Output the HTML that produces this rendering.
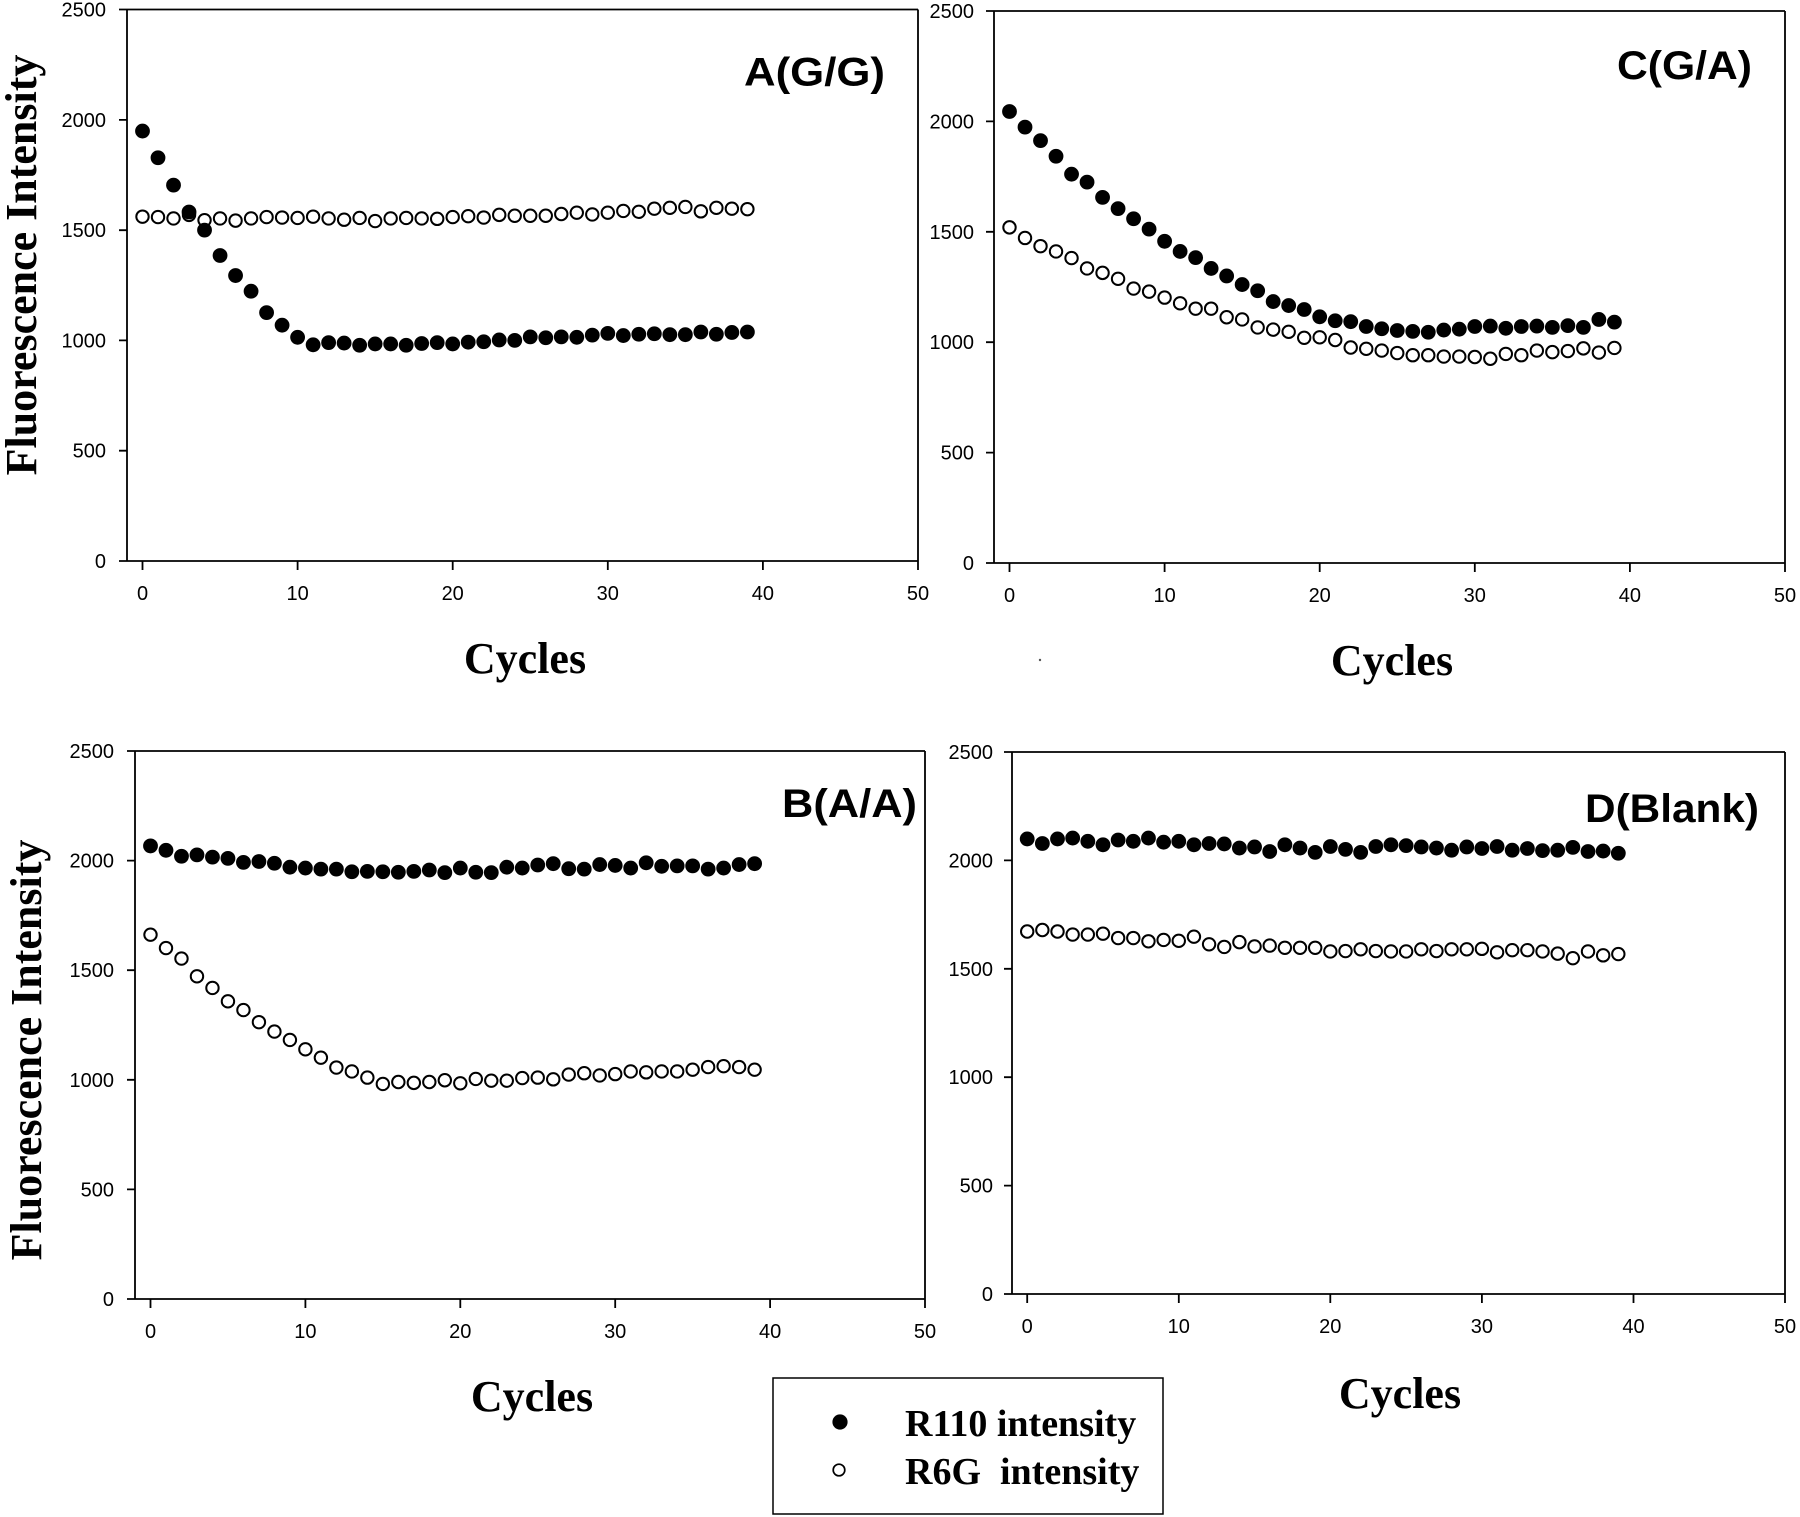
<!DOCTYPE html>
<html><head><meta charset="utf-8"><style>
html,body{margin:0;padding:0;background:#fff;}
svg{display:block;}
.tk{font-family:"Liberation Sans",Arial,sans-serif;font-size:20px;fill:#000;}
.ttl{font-family:"Liberation Sans",Arial,sans-serif;font-size:40px;font-weight:bold;fill:#000;}
.cy{font-family:"Liberation Serif","Times New Roman",serif;font-size:44px;font-weight:bold;fill:#000;}
.lg{font-family:"Liberation Serif","Times New Roman",serif;font-size:38px;font-weight:bold;fill:#000;}
</style></head><body>
<svg width="1800" height="1517" viewBox="0 0 1800 1517" xmlns="http://www.w3.org/2000/svg">
<rect width="1800" height="1517" fill="#fff"/>
<defs>
<g id="fA"><circle r="7.4" fill="#000" transform="scale(0.064475,-4.5331)"/></g>
<g id="oA"><circle r="6.2" fill="#fff" stroke="#000" stroke-width="2" transform="scale(0.064475,-4.5331)"/></g>
<g id="fC"><circle r="7.4" fill="#000" transform="scale(0.064475,-4.5290)"/></g>
<g id="oC"><circle r="6.2" fill="#fff" stroke="#000" stroke-width="2" transform="scale(0.064475,-4.5290)"/></g>
<g id="fB"><circle r="7.4" fill="#000" transform="scale(0.064558,-4.5620)"/></g>
<g id="oB"><circle r="6.2" fill="#fff" stroke="#000" stroke-width="2" transform="scale(0.064558,-4.5620)"/></g>
<g id="fD"><circle r="7.4" fill="#000" transform="scale(0.065976,-4.6125)"/></g>
<g id="oD"><circle r="6.2" fill="#fff" stroke="#000" stroke-width="2" transform="scale(0.065976,-4.6125)"/></g>
</defs>

<!-- ================= Plot A ================= -->
<g stroke="#000" stroke-width="1.8" fill="none">
<path d="M127 9.5V561M119 9.5H918M918 9.5V570M119 561H918"/>
<path d="M119 450.7H127M119 340.4H127M119 230.2H127M119 119.9H127"/>
<path d="M142.5 561V570M297.6 561V570M452.7 561V570M607.8 561V570M762.9 561V570"/>
</g>
<g class="tk" text-anchor="end">
<text x="106" y="568">0</text><text x="106" y="457.7">500</text><text x="106" y="347.4">1000</text>
<text x="106" y="237.2">1500</text><text x="106" y="126.9">2000</text><text x="106" y="16.5">2500</text>
</g>
<g class="tk" text-anchor="middle">
<text x="142.5" y="600">0</text><text x="297.6" y="600">10</text><text x="452.7" y="600">20</text>
<text x="607.8" y="600">30</text><text x="762.9" y="600">40</text><text x="918" y="600">50</text>
</g>
<text class="ttl" x="744" y="85.5" textLength="141" lengthAdjust="spacingAndGlyphs">A(G/G)</text>
<text class="cy" x="525" y="673" text-anchor="middle">Cycles</text>
<text class="cy" text-anchor="middle" transform="translate(36,265) rotate(-90)">Fluorescence Intensity</text>
<g transform="translate(142.5,561) scale(15.51,-0.2206)">
<use href="#oA" x="0" y="1561"/><use href="#oA" x="1" y="1559"/><use href="#oA" x="2" y="1553"/><use href="#oA" x="3" y="1569"/><use href="#oA" x="4" y="1545"/><use href="#oA" x="5" y="1553"/><use href="#oA" x="6" y="1543"/><use href="#oA" x="7" y="1553"/><use href="#oA" x="8" y="1559"/><use href="#oA" x="9" y="1557"/>
<use href="#oA" x="10" y="1555"/><use href="#oA" x="11" y="1561"/><use href="#oA" x="12" y="1553"/><use href="#oA" x="13" y="1547"/><use href="#oA" x="14" y="1555"/><use href="#oA" x="15" y="1541"/><use href="#oA" x="16" y="1553"/><use href="#oA" x="17" y="1555"/><use href="#oA" x="18" y="1553"/><use href="#oA" x="19" y="1551"/>
<use href="#oA" x="20" y="1559"/><use href="#oA" x="21" y="1563"/><use href="#oA" x="22" y="1557"/><use href="#oA" x="23" y="1569"/><use href="#oA" x="24" y="1565"/><use href="#oA" x="25" y="1565"/><use href="#oA" x="26" y="1565"/><use href="#oA" x="27" y="1573"/><use href="#oA" x="28" y="1579"/><use href="#oA" x="29" y="1571"/>
<use href="#oA" x="30" y="1579"/><use href="#oA" x="31" y="1587"/><use href="#oA" x="32" y="1583"/><use href="#oA" x="33" y="1597"/><use href="#oA" x="34" y="1601"/><use href="#oA" x="35" y="1605"/><use href="#oA" x="36" y="1585"/><use href="#oA" x="37" y="1601"/><use href="#oA" x="38" y="1597"/><use href="#oA" x="39" y="1595"/>
<use href="#fA" x="0" y="1949"/><use href="#fA" x="1" y="1828"/><use href="#fA" x="2" y="1704"/><use href="#fA" x="3" y="1582"/><use href="#fA" x="4" y="1500"/><use href="#fA" x="5" y="1385"/><use href="#fA" x="6" y="1294"/><use href="#fA" x="7" y="1223"/><use href="#fA" x="8" y="1126"/><use href="#fA" x="9" y="1069"/>
<use href="#fA" x="10" y="1014"/><use href="#fA" x="11" y="980"/><use href="#fA" x="12" y="990"/><use href="#fA" x="13" y="988"/><use href="#fA" x="14" y="978"/><use href="#fA" x="15" y="984"/><use href="#fA" x="16" y="984"/><use href="#fA" x="17" y="978"/><use href="#fA" x="18" y="986"/><use href="#fA" x="19" y="990"/>
<use href="#fA" x="20" y="984"/><use href="#fA" x="21" y="992"/><use href="#fA" x="22" y="994"/><use href="#fA" x="23" y="1002"/><use href="#fA" x="24" y="1000"/><use href="#fA" x="25" y="1016"/><use href="#fA" x="26" y="1012"/><use href="#fA" x="27" y="1016"/><use href="#fA" x="28" y="1014"/><use href="#fA" x="29" y="1024"/>
<use href="#fA" x="30" y="1032"/><use href="#fA" x="31" y="1022"/><use href="#fA" x="32" y="1028"/><use href="#fA" x="33" y="1030"/><use href="#fA" x="34" y="1026"/><use href="#fA" x="35" y="1026"/><use href="#fA" x="36" y="1038"/><use href="#fA" x="37" y="1028"/><use href="#fA" x="38" y="1036"/><use href="#fA" x="39" y="1038"/>
</g>

<!-- ================= Plot C ================= -->
<g stroke="#000" stroke-width="1.8" fill="none">
<path d="M994 11V563M986 11H1785M1785 11V572M986 563H1785"/>
<path d="M986 452.6H994M986 342.2H994M986 231.8H994M986 121.4H994"/>
<path d="M1009.5 563V572M1164.6 563V572M1319.7 563V572M1474.8 563V572M1629.9 563V572"/>
</g>
<g class="tk" text-anchor="end">
<text x="974" y="570">0</text><text x="974" y="459.6">500</text><text x="974" y="349.2">1000</text>
<text x="974" y="238.8">1500</text><text x="974" y="128.4">2000</text><text x="974" y="18">2500</text>
</g>
<g class="tk" text-anchor="middle">
<text x="1009.5" y="602">0</text><text x="1164.6" y="602">10</text><text x="1319.7" y="602">20</text>
<text x="1474.8" y="602">30</text><text x="1629.9" y="602">40</text><text x="1785" y="602">50</text>
</g>
<text class="ttl" x="1617" y="79" textLength="135" lengthAdjust="spacingAndGlyphs">C(G/A)</text>
<text class="cy" x="1392" y="675" text-anchor="middle">Cycles</text>
<circle cx="1040" cy="660" r="1.2" fill="#555"/>
<g transform="translate(1009.5,563) scale(15.51,-0.2208)">
<use href="#oC" x="0" y="1520"/><use href="#oC" x="1" y="1472"/><use href="#oC" x="2" y="1435"/><use href="#oC" x="3" y="1411"/><use href="#oC" x="4" y="1381"/><use href="#oC" x="5" y="1334"/><use href="#oC" x="6" y="1314"/><use href="#oC" x="7" y="1287"/><use href="#oC" x="8" y="1243"/><use href="#oC" x="9" y="1229"/>
<use href="#oC" x="10" y="1202"/><use href="#oC" x="11" y="1176"/><use href="#oC" x="12" y="1152"/><use href="#oC" x="13" y="1152"/><use href="#oC" x="14" y="1113"/><use href="#oC" x="15" y="1103"/><use href="#oC" x="16" y="1067"/><use href="#oC" x="17" y="1057"/><use href="#oC" x="18" y="1047"/><use href="#oC" x="19" y="1020"/>
<use href="#oC" x="20" y="1022"/><use href="#oC" x="21" y="1010"/><use href="#oC" x="22" y="976"/><use href="#oC" x="23" y="970"/><use href="#oC" x="24" y="962"/><use href="#oC" x="25" y="951"/><use href="#oC" x="26" y="941"/><use href="#oC" x="27" y="941"/><use href="#oC" x="28" y="935"/><use href="#oC" x="29" y="935"/>
<use href="#oC" x="30" y="933"/><use href="#oC" x="31" y="925"/><use href="#oC" x="32" y="947"/><use href="#oC" x="33" y="941"/><use href="#oC" x="34" y="962"/><use href="#oC" x="35" y="955"/><use href="#oC" x="36" y="960"/><use href="#oC" x="37" y="972"/><use href="#oC" x="38" y="953"/><use href="#oC" x="39" y="974"/>
<use href="#fC" x="0" y="2045"/><use href="#fC" x="1" y="1974"/><use href="#fC" x="2" y="1913"/><use href="#fC" x="3" y="1842"/><use href="#fC" x="4" y="1761"/><use href="#fC" x="5" y="1725"/><use href="#fC" x="6" y="1656"/><use href="#fC" x="7" y="1605"/><use href="#fC" x="8" y="1559"/><use href="#fC" x="9" y="1512"/>
<use href="#fC" x="10" y="1457"/><use href="#fC" x="11" y="1411"/><use href="#fC" x="12" y="1383"/><use href="#fC" x="13" y="1334"/><use href="#fC" x="14" y="1300"/><use href="#fC" x="15" y="1261"/><use href="#fC" x="16" y="1233"/><use href="#fC" x="17" y="1184"/><use href="#fC" x="18" y="1166"/><use href="#fC" x="19" y="1148"/>
<use href="#fC" x="20" y="1115"/><use href="#fC" x="21" y="1097"/><use href="#fC" x="22" y="1093"/><use href="#fC" x="23" y="1071"/><use href="#fC" x="24" y="1061"/><use href="#fC" x="25" y="1053"/><use href="#fC" x="26" y="1049"/><use href="#fC" x="27" y="1045"/><use href="#fC" x="28" y="1055"/><use href="#fC" x="29" y="1059"/>
<use href="#fC" x="30" y="1071"/><use href="#fC" x="31" y="1073"/><use href="#fC" x="32" y="1063"/><use href="#fC" x="33" y="1071"/><use href="#fC" x="34" y="1073"/><use href="#fC" x="35" y="1067"/><use href="#fC" x="36" y="1075"/><use href="#fC" x="37" y="1067"/><use href="#fC" x="38" y="1103"/><use href="#fC" x="39" y="1091"/>
</g>

<!-- ================= Plot B ================= -->
<g stroke="#000" stroke-width="1.8" fill="none">
<path d="M135 751V1299M127 751H925M925 751V1308M127 1299H925"/>
<path d="M127 1189.4H135M127 1079.8H135M127 970.2H135M127 860.6H135"/>
<path d="M150.5 1299V1308M305.4 1299V1308M460.3 1299V1308M615.2 1299V1308M770.1 1299V1308"/>
</g>
<g class="tk" text-anchor="end">
<text x="114" y="1306">0</text><text x="114" y="1196.4">500</text><text x="114" y="1086.8">1000</text>
<text x="114" y="977.2">1500</text><text x="114" y="867.6">2000</text><text x="114" y="758">2500</text>
</g>
<g class="tk" text-anchor="middle">
<text x="150.5" y="1338">0</text><text x="305.4" y="1338">10</text><text x="460.3" y="1338">20</text>
<text x="615.2" y="1338">30</text><text x="770.1" y="1338">40</text><text x="925" y="1338">50</text>
</g>
<text class="ttl" x="782" y="817" textLength="135" lengthAdjust="spacingAndGlyphs">B(A/A)</text>
<text class="cy" x="532" y="1411" text-anchor="middle">Cycles</text>
<text class="cy" text-anchor="middle" transform="translate(41,1050) rotate(-90)">Fluorescence Intensity</text>
<g transform="translate(150.5,1299) scale(15.49,-0.2192)">
<use href="#oB" x="0" y="1662"/><use href="#oB" x="1" y="1601"/><use href="#oB" x="2" y="1553"/><use href="#oB" x="3" y="1472"/><use href="#oB" x="4" y="1419"/><use href="#oB" x="5" y="1358"/><use href="#oB" x="6" y="1318"/><use href="#oB" x="7" y="1263"/><use href="#oB" x="8" y="1220"/><use href="#oB" x="9" y="1182"/>
<use href="#oB" x="10" y="1139"/><use href="#oB" x="11" y="1101"/><use href="#oB" x="12" y="1056"/><use href="#oB" x="13" y="1038"/><use href="#oB" x="14" y="1010"/><use href="#oB" x="15" y="981"/><use href="#oB" x="16" y="990"/><use href="#oB" x="17" y="986"/><use href="#oB" x="18" y="990"/><use href="#oB" x="19" y="998"/>
<use href="#oB" x="20" y="984"/><use href="#oB" x="21" y="1004"/><use href="#oB" x="22" y="996"/><use href="#oB" x="23" y="996"/><use href="#oB" x="24" y="1008"/><use href="#oB" x="25" y="1010"/><use href="#oB" x="26" y="1002"/><use href="#oB" x="27" y="1024"/><use href="#oB" x="28" y="1030"/><use href="#oB" x="29" y="1020"/>
<use href="#oB" x="30" y="1026"/><use href="#oB" x="31" y="1038"/><use href="#oB" x="32" y="1034"/><use href="#oB" x="33" y="1038"/><use href="#oB" x="34" y="1038"/><use href="#oB" x="35" y="1046"/><use href="#oB" x="36" y="1058"/><use href="#oB" x="37" y="1062"/><use href="#oB" x="38" y="1058"/><use href="#oB" x="39" y="1046"/>
<use href="#fB" x="0" y="2067"/><use href="#fB" x="1" y="2047"/><use href="#fB" x="2" y="2020"/><use href="#fB" x="3" y="2026"/><use href="#fB" x="4" y="2016"/><use href="#fB" x="5" y="2010"/><use href="#fB" x="6" y="1992"/><use href="#fB" x="7" y="1996"/><use href="#fB" x="8" y="1988"/><use href="#fB" x="9" y="1970"/>
<use href="#fB" x="10" y="1966"/><use href="#fB" x="11" y="1961"/><use href="#fB" x="12" y="1961"/><use href="#fB" x="13" y="1949"/><use href="#fB" x="14" y="1951"/><use href="#fB" x="15" y="1949"/><use href="#fB" x="16" y="1947"/><use href="#fB" x="17" y="1951"/><use href="#fB" x="18" y="1957"/><use href="#fB" x="19" y="1945"/>
<use href="#fB" x="20" y="1966"/><use href="#fB" x="21" y="1947"/><use href="#fB" x="22" y="1945"/><use href="#fB" x="23" y="1970"/><use href="#fB" x="24" y="1966"/><use href="#fB" x="25" y="1980"/><use href="#fB" x="26" y="1986"/><use href="#fB" x="27" y="1963"/><use href="#fB" x="28" y="1961"/><use href="#fB" x="29" y="1982"/>
<use href="#fB" x="30" y="1978"/><use href="#fB" x="31" y="1966"/><use href="#fB" x="32" y="1990"/><use href="#fB" x="33" y="1974"/><use href="#fB" x="34" y="1976"/><use href="#fB" x="35" y="1976"/><use href="#fB" x="36" y="1961"/><use href="#fB" x="37" y="1966"/><use href="#fB" x="38" y="1982"/><use href="#fB" x="39" y="1986"/>
</g>

<!-- ================= Plot D ================= -->
<g stroke="#000" stroke-width="1.8" fill="none">
<path d="M1012 752V1294M1004 752H1785M1785 752V1303M1004 1294H1785"/>
<path d="M1004 1185.6H1012M1004 1077.2H1012M1004 968.8H1012M1004 860.4H1012"/>
<path d="M1027.2 1294V1303M1178.8 1294V1303M1330.3 1294V1303M1481.9 1294V1303M1633.5 1294V1303"/>
</g>
<g class="tk" text-anchor="end">
<text x="993" y="1301">0</text><text x="993" y="1192.6">500</text><text x="993" y="1084.2">1000</text>
<text x="993" y="975.8">1500</text><text x="993" y="867.4">2000</text><text x="993" y="759">2500</text>
</g>
<g class="tk" text-anchor="middle">
<text x="1027.2" y="1333">0</text><text x="1178.8" y="1333">10</text><text x="1330.3" y="1333">20</text>
<text x="1481.9" y="1333">30</text><text x="1633.5" y="1333">40</text><text x="1785" y="1333">50</text>
</g>
<text class="ttl" x="1585" y="822" textLength="174" lengthAdjust="spacingAndGlyphs">D(Blank)</text>
<text class="cy" x="1400" y="1408" text-anchor="middle">Cycles</text>
<g transform="translate(1027.2,1294) scale(15.157,-0.2168)">
<use href="#oD" x="0" y="1672"/><use href="#oD" x="1" y="1679"/><use href="#oD" x="2" y="1672"/><use href="#oD" x="3" y="1658"/><use href="#oD" x="4" y="1658"/><use href="#oD" x="5" y="1662"/><use href="#oD" x="6" y="1642"/><use href="#oD" x="7" y="1642"/><use href="#oD" x="8" y="1627"/><use href="#oD" x="9" y="1633"/>
<use href="#oD" x="10" y="1629"/><use href="#oD" x="11" y="1648"/><use href="#oD" x="12" y="1613"/><use href="#oD" x="13" y="1601"/><use href="#oD" x="14" y="1623"/><use href="#oD" x="15" y="1603"/><use href="#oD" x="16" y="1607"/><use href="#oD" x="17" y="1597"/><use href="#oD" x="18" y="1597"/><use href="#oD" x="19" y="1597"/>
<use href="#oD" x="20" y="1580"/><use href="#oD" x="21" y="1582"/><use href="#oD" x="22" y="1590"/><use href="#oD" x="23" y="1582"/><use href="#oD" x="24" y="1580"/><use href="#oD" x="25" y="1580"/><use href="#oD" x="26" y="1590"/><use href="#oD" x="27" y="1582"/><use href="#oD" x="28" y="1590"/><use href="#oD" x="29" y="1590"/>
<use href="#oD" x="30" y="1592"/><use href="#oD" x="31" y="1576"/><use href="#oD" x="32" y="1586"/><use href="#oD" x="33" y="1586"/><use href="#oD" x="34" y="1580"/><use href="#oD" x="35" y="1570"/><use href="#oD" x="36" y="1549"/><use href="#oD" x="37" y="1580"/><use href="#oD" x="38" y="1562"/><use href="#oD" x="39" y="1568"/>
<use href="#fD" x="0" y="2099"/><use href="#fD" x="1" y="2078"/><use href="#fD" x="2" y="2099"/><use href="#fD" x="3" y="2103"/><use href="#fD" x="4" y="2088"/><use href="#fD" x="5" y="2072"/><use href="#fD" x="6" y="2094"/><use href="#fD" x="7" y="2088"/><use href="#fD" x="8" y="2103"/><use href="#fD" x="9" y="2084"/>
<use href="#fD" x="10" y="2088"/><use href="#fD" x="11" y="2072"/><use href="#fD" x="12" y="2078"/><use href="#fD" x="13" y="2076"/><use href="#fD" x="14" y="2057"/><use href="#fD" x="15" y="2062"/><use href="#fD" x="16" y="2041"/><use href="#fD" x="17" y="2072"/><use href="#fD" x="18" y="2057"/><use href="#fD" x="19" y="2037"/>
<use href="#fD" x="20" y="2064"/><use href="#fD" x="21" y="2051"/><use href="#fD" x="22" y="2037"/><use href="#fD" x="23" y="2064"/><use href="#fD" x="24" y="2072"/><use href="#fD" x="25" y="2068"/><use href="#fD" x="26" y="2062"/><use href="#fD" x="27" y="2057"/><use href="#fD" x="28" y="2047"/><use href="#fD" x="29" y="2062"/>
<use href="#fD" x="30" y="2055"/><use href="#fD" x="31" y="2064"/><use href="#fD" x="32" y="2047"/><use href="#fD" x="33" y="2055"/><use href="#fD" x="34" y="2045"/><use href="#fD" x="35" y="2047"/><use href="#fD" x="36" y="2060"/><use href="#fD" x="37" y="2041"/><use href="#fD" x="38" y="2043"/><use href="#fD" x="39" y="2033"/>
</g>

<!-- ================= Legend ================= -->
<rect x="773" y="1378" width="390" height="136" fill="none" stroke="#000" stroke-width="1.5"/>
<circle cx="840" cy="1422" r="7.6" fill="#000"/>
<circle cx="839" cy="1470" r="5.8" fill="#fff" stroke="#000" stroke-width="1.7"/>
<text class="lg" x="905" y="1436">R110 intensity</text>
<text class="lg" x="905" y="1484" xml:space="preserve">R6G  intensity</text>
</svg>
</body></html>
